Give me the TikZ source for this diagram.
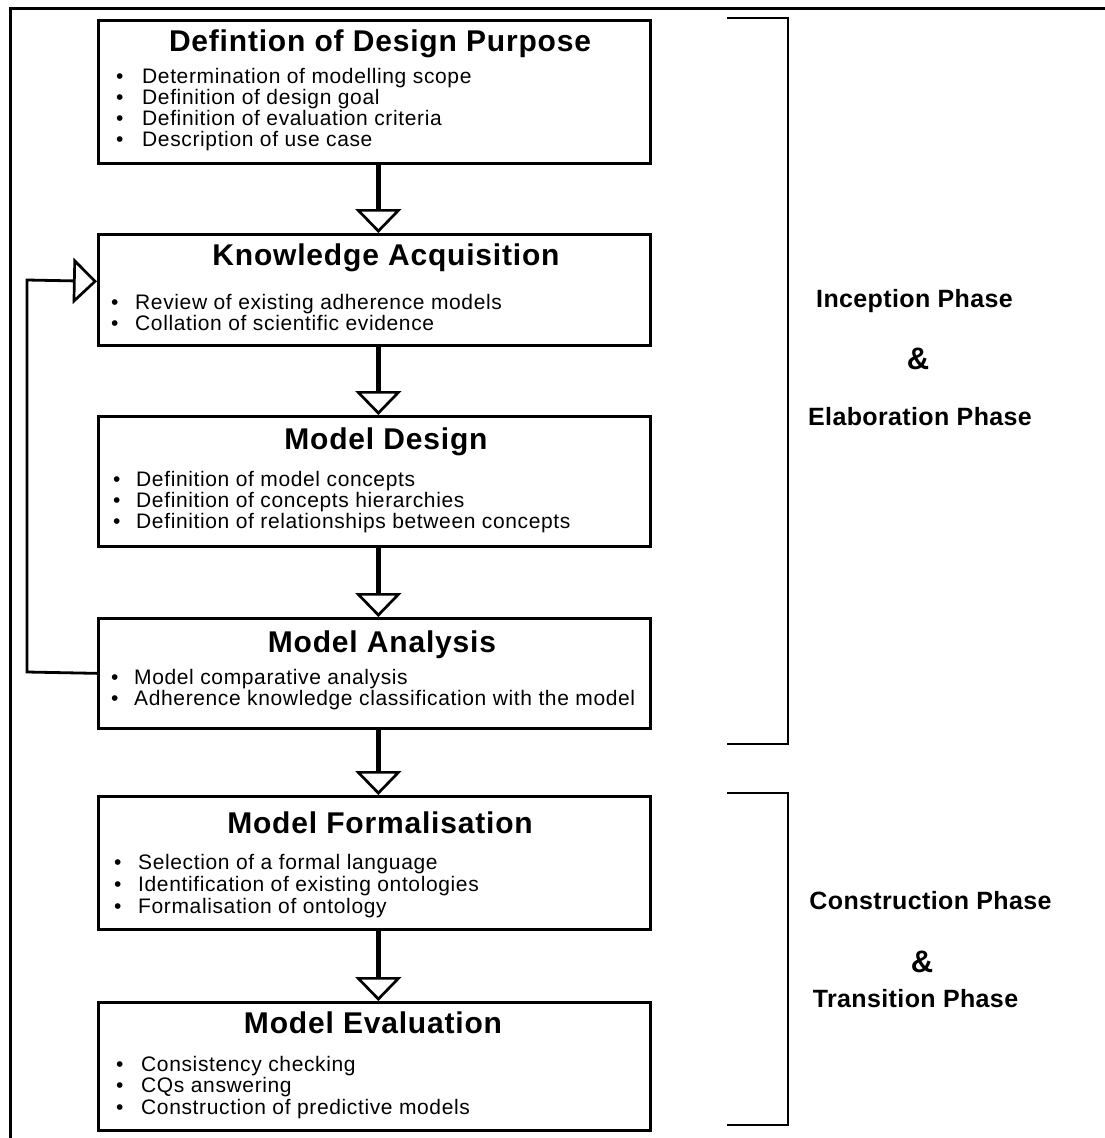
\documentclass[tikz,border=0pt]{standalone}
\usepackage{fontspec}
\setmainfont{Liberation Sans}
\newfontfamily\titlefont[LetterSpace=2.7]{Liberation Sans}
\newfontfamily\itemfont[LetterSpace=3]{Liberation Sans}
\newfontfamily\phasefont[LetterSpace=1.5]{Liberation Sans}
\usetikzlibrary{arrows.meta}

\tikzset{
  stage/.style={draw, line width=2.7pt, minimum width=552pt, inner sep=0pt,
    anchor=north west},
  stagetitle/.style={anchor=base, inner sep=0pt,
    font=\titlefont\bfseries\fontsize{30}{33}\selectfont},
  item/.style={anchor=base west, inner sep=0pt,
    font=\itemfont\fontsize{21}{23}\selectfont},
  phase/.style={anchor=base, inner sep=0pt,
    font=\phasefont\bfseries\fontsize{25}{28}\selectfont},
  amp/.style={anchor=center, inner sep=0pt,
    font=\bfseries\fontsize{31}{34}\selectfont},
  flow/.style={line width=4.5pt,
    -{Triangle[open, width=46pt, length=24pt, line width=2.7pt]}},
  fback/.style={line width=2.8pt,
    -{Triangle[open, width=46pt, length=24pt, line width=2.7pt]}},
  bracket/.style={line width=2.7pt},
  frame/.style={line width=3pt}
}

% one bullet line: name, x, baseline y, text offset, text
\newcommand\bulletline[5]{%
  \node[item] (#1) at (#2,#3) {\makebox[#4pt][l]{\textbullet}#5};}

\begin{document}
\begin{tikzpicture}[x=1pt, y=-1pt]
\useasboundingbox (0,0) rectangle (1105,1138);
\fill[white] (0,0) rectangle (1105,1138);

% outer frame (open to the right and bottom)
\draw[frame] (10,1145) -- (10,8.5) -- (1115,8.5);

% stage boxes
\node[stage, minimum height=143pt] (b1) at (97,19)  {};
\node[stage, minimum height=111pt] (b2) at (97,233) {};
\node[stage, minimum height=130pt] (b3) at (97,415) {};
\node[stage, minimum height=110pt] (b4) at (97,617) {};
\node[stage, minimum height=133pt] (b5) at (97,795) {};
\node[stage, minimum height=128pt] (b6) at (97,1001) {};

% titles
\node[stagetitle] (t1) at (380,51)   {Defintion of Design Purpose};
\node[stagetitle] (t2) at (386,265)  {Knowledge Acquisition};
\node[stagetitle] (t3) at (386,449)  {Model Design};
\node[stagetitle] (t4) at (382,652)  {Model Analysis};
\node[stagetitle] (t5) at (380,833)  {Model Formalisation};
\node[stagetitle] (t6) at (373,1033) {Model Evaluation};

% bullet items
\bulletline{i11}{116}{83}{26}{Determination of modelling scope}
\bulletline{i12}{116}{104}{26}{Definition of design goal}
\bulletline{i13}{116}{125}{26}{Definition of evaluation criteria}
\bulletline{i14}{116}{146}{26}{Description of use case}

\bulletline{i21}{111}{309}{24}{Review of existing adherence models}
\bulletline{i22}{111}{330}{24}{Collation of scientific evidence}

\bulletline{i31}{113}{486}{23}{Definition of model concepts}
\bulletline{i32}{113}{507}{23}{Definition of concepts hierarchies}
\bulletline{i33}{113}{528}{23}{Definition of relationships between concepts}

\bulletline{i41}{111}{684}{23}{Model comparative analysis}
\bulletline{i42}{111}{705}{23}{Adherence knowledge classification with the model}

\bulletline{i51}{114}{869}{24}{Selection of a formal language}
\bulletline{i52}{114}{891}{24}{Identification of existing ontologies}
\bulletline{i53}{114}{913}{24}{Formalisation of ontology}

\bulletline{i61}{116}{1071}{25}{Consistency checking}
\bulletline{i62}{116}{1092}{25}{CQs answering}
\bulletline{i63}{116}{1114}{25}{Construction of predictive models}

% flow arrows between stages
\draw[flow] ([xshift=4pt]b1.south) -- ([xshift=4pt]b2.north);
\draw[flow] ([xshift=4pt]b2.south) -- ([xshift=4pt]b3.north);
\draw[flow] ([xshift=4pt]b3.south) -- ([xshift=4pt]b4.north);
\draw[flow] ([xshift=4pt]b4.south) -- ([xshift=4pt]b5.north);
\draw[flow] ([xshift=4pt]b5.south) -- ([xshift=4pt]b6.north);

% feedback loop from analysis back to knowledge acquisition
\coordinate (fbA) at (27,672);
\coordinate (fbB) at (27,280);
\draw[fback] (b4.west) -- (fbA) -- (fbB) -- ([yshift=8.5pt]b2.west);

% phase brackets
\draw[bracket] (727,18) -- (788,18) -- (788,744) -- (727,744);
\draw[bracket] (727,793) -- (788,793) -- (788,1125) -- (727,1125);

% phase labels
\node[phase] (p1) at (914.5,307) {Inception Phase};
\node[amp]   (a1) at (918,359)   {\&};
\node[phase] (p2) at (920,425)   {Elaboration Phase};
\node[phase] (p3) at (930.5,909) {Construction Phase};
\node[amp]   (a2) at (922,962)   {\&};
\node[phase] (p4) at (915.5,1007) {Transition Phase};
\end{tikzpicture}
\end{document}
